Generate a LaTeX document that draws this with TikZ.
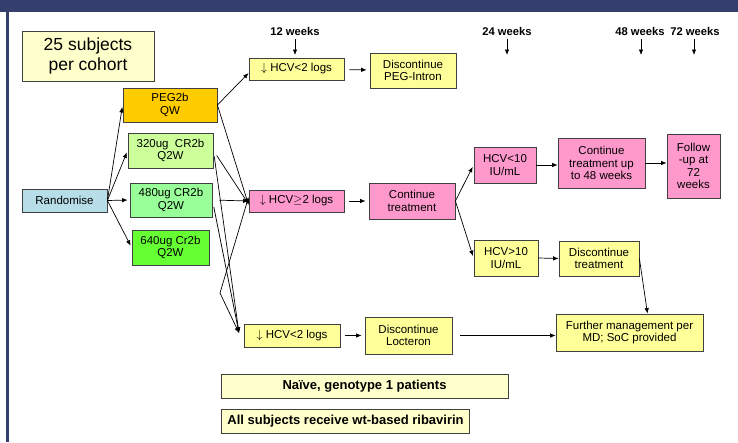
\documentclass[tikz,border=0pt]{standalone}
\usepackage{fontspec}
\setmainfont{Liberation Sans}
\usetikzlibrary{arrows.meta, positioning, calc}
\definecolor{cNavy}{RGB}{52,63,110}
\definecolor{cPale}{RGB}{255,255,204}
\definecolor{cYel}{RGB}{255,255,153}
\definecolor{cPink}{RGB}{255,153,204}
\definecolor{cOrange}{RGB}{255,204,0}
\definecolor{cLime}{RGB}{204,255,153}
\definecolor{cMint}{RGB}{153,255,153}
\definecolor{cGreen}{RGB}{102,255,51}
\definecolor{cBlue}{RGB}{183,222,232}
\tikzset{
	box/.style      ={rectangle, draw=black!75, line width=0.8pt, align=center, inner sep=1pt, font=\fontsize{11.5}{12.5}\selectfont},
	yel/.style      ={box, fill=cYel},
	pnk/.style      ={box, fill=cPink},
	wk/.style       ={font=\fontsize{11.2}{12}\selectfont\bfseries, inner sep=1pt},
	note/.style     ={rectangle, draw=black!75, line width=0.8pt, fill=cPale, font=\fontsize{13}{14}\selectfont\bfseries},
	flowarrow/.style={-{Latex[length=5.5pt,width=4.5pt]}, line width=0.7pt},
}
\begin{document}
\begin{tikzpicture}[x=1pt, y=-1pt]
	\useasboundingbox (0,0) rectangle (738,442);
	% frame of the slide
	\fill[cNavy] (0,0) rectangle (738,12);
	\fill[cNavy] (6,12) rectangle (8.7,442);
	% cohorts
	\node[box, fill=cPale, minimum width=132pt, minimum height=50pt, font=\fontsize{17.5}{20}\selectfont] (subj) at (88,56) {25 subjects\\ per cohort};
	\node[box, fill=cBlue, minimum width=85pt, minimum height=23pt] (rand) at (64.5,200.5) {Randomise};
	\node[box, fill=cOrange, minimum width=94pt, minimum height=34pt] (peg) at (170,105) {PEG2b\\ QW};
	\node[box, fill=cLime, minimum width=85pt, minimum height=35pt] (c320) at (170.5,150.5) {320ug\ \ CR2b\\ Q2W};
	\node[box, fill=cMint, minimum width=82pt, minimum height=34pt] (c480) at (171,200) {480ug CR2b\\ Q2W};
	\node[box, fill=cGreen, minimum width=77pt, minimum height=35pt] (c640) at (170.5,247.5) {640ug Cr2b\\ Q2W};
	% week marks
	\node[wk] (w12) at (295,31) {12 weeks};
	\node[wk] (w24) at (507,31) {24 weeks};
	\node[wk] (w48) at (640,31) {48 weeks};
	\node[wk] (w72) at (695,31) {72 weeks};
	\coordinate (w12e) at (295,55);
	\coordinate (w24e) at (507,55);
	\coordinate (w48e) at (641,55);
	\coordinate (w72e) at (694,55);
	% response boxes
	\node[yel, minimum width=95pt, minimum height=22pt] (lowA) at (296.5,69) {$\downarrow$ HCV<2 logs};
	\node[yel, minimum width=86pt, minimum height=35pt] (dpeg) at (413,70.5) {Discontinue\\ PEG-Intron};
	\node[pnk, minimum width=95pt, minimum height=22pt] (hiB) at (296.5,201) {$\downarrow$ HCV$\geq$2 logs};
	\node[pnk, minimum width=86pt, minimum height=36pt] (cont) at (412,201) {Continue\\ treatment};
	\node[pnk, minimum width=62pt, minimum height=36pt] (lt10) at (505,165) {HCV<10\\ IU/mL};
	\node[pnk, minimum width=87pt, minimum height=50pt] (c48) at (601.5,163) {Continue\\ treatment up\\ to 48 weeks};
	\node[pnk, minimum width=53pt, minimum height=64pt] (fup) at (693.5,166) {Follow\\ -up at\\ 72\\ weeks};
	\node[yel, minimum width=64pt, minimum height=36pt] (gt10) at (506,258) {HCV>10\\ IU/mL};
	\node[yel, minimum width=80pt, minimum height=35pt] (dtr) at (599,258.5) {Discontinue\\ treatment};
	\node[yel, minimum width=96pt, minimum height=23pt] (lowC) at (292,335.5) {$\downarrow$ HCV<2 logs};
	\node[yel, minimum width=87pt, minimum height=37pt] (dloc) at (408.5,335.5) {Discontinue\\ Locteron};
	\node[yel, minimum width=147pt, minimum height=37pt] (fmd) at (629.5,332.5) {Further management per\\ MD; SoC provided};
	% notes
	\node[note, minimum width=287pt, minimum height=24pt] (naive) at (364.5,386) {Naïve, genotype 1 patients};
	\node[note, minimum width=224pt, minimum height=24pt, inner xsep=6pt, anchor=west] (allsub) at (221,421) {All subjects receive wt-based ribavirin};
	% free ends
	\coordinate (lowIn) at (239,333);
	\coordinate (k640) at (220,293);
	% arrows
	\foreach \w in {w12, w24, w48, w72}
		\draw[flowarrow, shorten <=3pt] (\w.south -| \w e) -- (\w e);
	\foreach \c in {peg, c320, c480, c640}
		\draw[flowarrow, shorten >=2pt] (rand.east) -- (\c.west);
	\draw[flowarrow] (peg.east) -- ([yshift=-4pt]lowA.west);
	\draw[flowarrow] (peg.east) -- ([yshift=-4pt]hiB.west);
	\draw[flowarrow, shorten <=6pt] (c320.east) -- ([yshift=-3pt]hiB.west);
	\draw[flowarrow, shorten <=6pt] (c320.east) -- (lowIn);
	\draw[flowarrow, shorten <=7pt] (c480.east) -- (hiB.west);
	\draw[flowarrow, shorten <=7pt] (c480.east) -- (lowIn);
	\draw[flowarrow] (k640) -- ([yshift=4pt]hiB.west);
	\draw[flowarrow] (k640) -- (lowIn);
	\draw[flowarrow, shorten <=5pt, shorten >=3pt] (lowA) -- (dpeg);
	\draw[flowarrow, shorten <=5pt, shorten >=3pt] (hiB) -- (cont);
	\draw[flowarrow, shorten <=5pt, shorten >=3pt] (lowC) -- (dloc);
	\draw[flowarrow, shorten >=2pt] (cont.east) -- (lt10.west);
	\draw[flowarrow, shorten >=2pt] (cont.east) -- (gt10.west);
	\draw[flowarrow] (lt10.east) -- (lt10.east -| c48.west);
	\draw[flowarrow] (c48.east) -- (c48.east -| fup.west);
	\draw[flowarrow] (gt10.east) -- (dtr.west);
	\draw[flowarrow] (dtr.east) -- ([xshift=18pt]fmd.north);
	\draw[flowarrow, shorten <=8pt] (dloc.east) -- (dloc.east -| fmd.west);
\end{tikzpicture}
\end{document}
